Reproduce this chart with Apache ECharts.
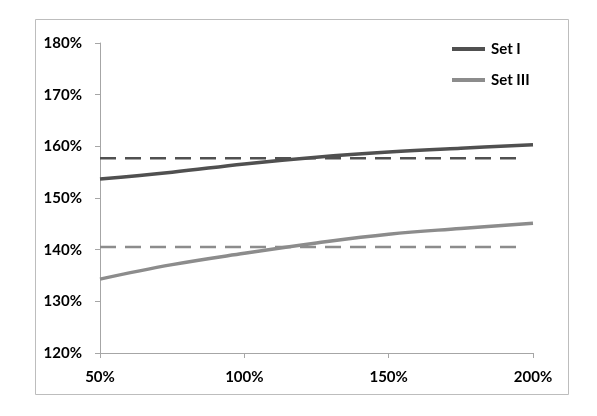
<!DOCTYPE html>
<html>
<head>
<meta charset="utf-8">
<script src="https://cdn.jsdelivr.net/npm/echarts@6/dist/echarts.min.js"></script>
<style>html,body{margin:0;padding:0;background:#fff}#c{width:597px;height:416px}</style>
</head>
<body>
<div id="c"></div>
<script>
// Data (x in %, y in %)
var xValues = [50, 75, 100, 125, 150, 175, 200];
var setI = [153.7, 155.0, 156.6, 157.9, 158.9, 159.65, 160.3];
var setIII = [134.3, 137.1, 139.3, 141.3, 143.0, 144.1, 145.1];
var setIRefX = [50, 197];
var setIRef = [157.7, 157.7];
var setIIIRefX = [50, 197];
var setIIIRef = [140.5, 140.5];
var xTicks = [50, 100, 150, 200];
var yTicks = [120, 130, 140, 150, 160, 170, 180];

function pairs(xs, ys) { return xs.map(function (x, i) { return [x, ys[i]]; }); }

var chart = echarts.init(document.getElementById('c'), null, { renderer: 'canvas' });
var labelStyle = { color: '#000', fontWeight: 'bold', fontSize: 15, fontFamily: 'Lato, "Open Sans", sans-serif' };
chart.setOption({
  animation: false,
  backgroundColor: '#fff',
  graphic: [{
    type: 'rect', shape: { x: 35.5, y: 19.5, width: 533, height: 375 },
    style: { fill: 'none', stroke: '#bdbdbd', lineWidth: 1 }, silent: true
  }],
  grid: { left: 100, right: 64, top: 43, bottom: 63 },
  legend: {
    data: ['Set I', 'Set III'],
    orient: 'vertical', left: 447, top: 35,
    icon: 'rect', itemWidth: 33, itemHeight: 4, itemGap: 13,
    textStyle: Object.assign({ lineHeight: 18, padding: [0, 0, 0, 1] }, labelStyle)
  },
  xAxis: {
    type: 'value', min: xTicks[0], max: xTicks[xTicks.length - 1], interval: 50,
    axisLine: { lineStyle: { color: '#a6a6a6' } },
    axisTick: { show: true, length: 5, lineStyle: { color: '#a6a6a6' } },
    axisLabel: Object.assign({ margin: 17, formatter: '{value}%' }, labelStyle),
    splitLine: { show: false }
  },
  yAxis: {
    type: 'value', min: yTicks[0], max: yTicks[yTicks.length - 1], interval: 10,
    axisLine: { show: true, lineStyle: { color: '#a6a6a6' } },
    axisTick: { show: true, length: 5, lineStyle: { color: '#a6a6a6' } },
    axisLabel: Object.assign({ margin: 18, formatter: '{value}%' }, labelStyle),
    splitLine: { show: false }
  },
  series: [
    { name: 'Set I', type: 'line', data: pairs(xValues, setI), smooth: 0.4, showSymbol: false, symbol: 'none',
      lineStyle: { color: '#505050', width: 3.5 }, itemStyle: { color: '#505050' } },
    { name: 'Set III', type: 'line', data: pairs(xValues, setIII), smooth: 0.4, showSymbol: false, symbol: 'none',
      lineStyle: { color: '#8c8c8c', width: 3.5 }, itemStyle: { color: '#8c8c8c' } },
    { name: 'Set I ref', type: 'line', data: pairs(setIRefX, setIRef), symbol: 'none',
      lineStyle: { color: '#505050', width: 2.5, type: [16, 9] } },
    { name: 'Set III ref', type: 'line', data: pairs(setIIIRefX, setIIIRef), symbol: 'none',
      lineStyle: { color: '#8c8c8c', width: 2.5, type: [16, 9] } }
  ]
});
</script>
</body>
</html>
